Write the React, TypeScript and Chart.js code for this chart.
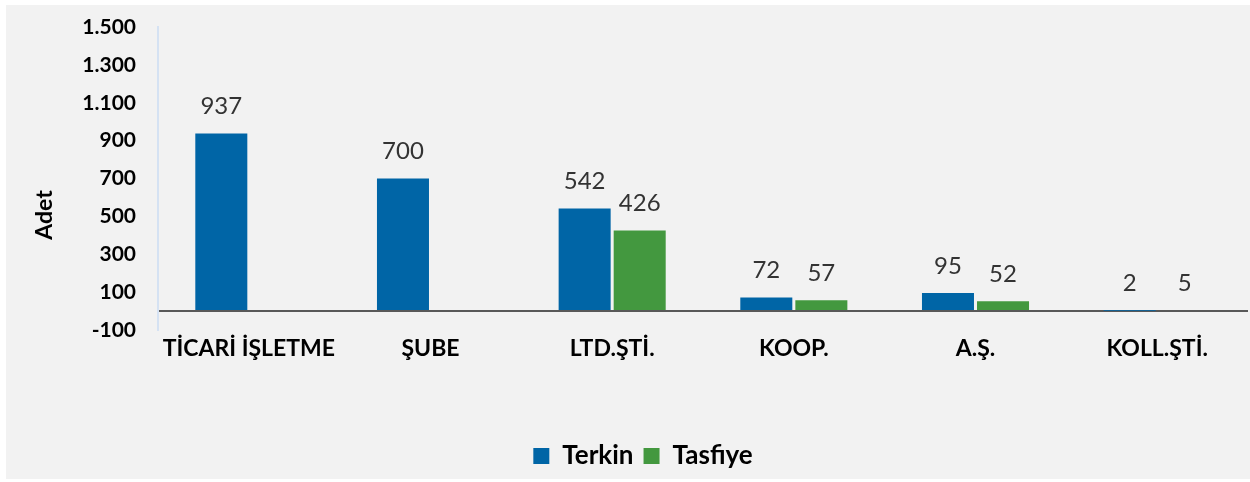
import React, { useEffect, useRef } from "react";
import { Chart, registerables } from "chart.js";

Chart.register(...registerables);

const categories = ["TİCARİ İŞLETME", "ŞUBE", "LTD.ŞTİ.", "KOOP.", "A.Ş.", "KOLL.ŞTİ."];
const terkinValues: (number | null)[] = [937, 700, 542, 72, 95, 2];
const tasfiyeValues: (number | null)[] = [null, null, 426, 57, 52, 5];
const yTickValues = [-100, 100, 300, 500, 700, 900, 1100, 1300, 1500];
const seriesNames = ["Terkin", "Tasfiye"];
const yTitle = "Adet";

const FONT = "Lato, 'Open Sans', sans-serif";

function fmtTR(v: number): string {
  const s = Math.abs(v).toString();
  const parts: string[] = [];
  for (let i = s.length; i > 0; i -= 3) parts.unshift(s.slice(Math.max(0, i - 3), i));
  return (v < 0 ? "-" : "") + parts.join(".");
}

const dataLabelPlugin = {
  id: "dataLabels",
  afterDatasetsDraw(chart: any) {
    const ctx = chart.ctx;
    ctx.save();
    ctx.font = `24px ${FONT}`;
    ctx.fillStyle = "#333333";
    ctx.textAlign = "center";
    ctx.textBaseline = "middle";
    chart.data.datasets.forEach((ds: any, di: number) => {
      const meta = chart.getDatasetMeta(di);
      meta.data.forEach((el: any, i: number) => {
        const v = ds.data[i];
        if (v === null || v === undefined) return;
        ctx.fillText(fmtTR(v), el.x, el.y - 27);
      });
    });
    ctx.restore();
  },
};

const yTitlePlugin = {
  id: "yTitle",
  afterDraw(chart: any) {
    const ctx = chart.ctx;
    ctx.save();
    ctx.translate(45, 215);
    ctx.rotate(-Math.PI / 2);
    ctx.font = `bold 23px ${FONT}`;
    ctx.fillStyle = "#000";
    ctx.textAlign = "center";
    ctx.textBaseline = "middle";
    ctx.fillText(yTitle, 0, 0);
    ctx.restore();
  },
};

export default function App() {
  const ref = useRef<HTMLCanvasElement | null>(null);

  useEffect(() => {
    document.body.style.margin = "0";
    if (!ref.current) return;
    const chart = new Chart(ref.current, {
      type: "bar",
      data: {
        labels: categories,
        datasets: [
          {
            label: seriesNames[0],
            data: terkinValues,
            backgroundColor: "#0065A6",
            barPercentage: 0.945,
            categoryPercentage: 0.606,
          },
          {
            label: seriesNames[1],
            data: tasfiyeValues,
            backgroundColor: "#43983F",
            barPercentage: 0.945,
            categoryPercentage: 0.606,
          },
        ],
      },
      options: {
        animation: false,
        responsive: false,
        maintainAspectRatio: false,
        layout: { padding: { top: 27, left: 38, right: 2, bottom: 3 } },
        plugins: {
          legend: {
            position: "bottom",
            labels: {
              boxWidth: 16,
              boxHeight: 16,
              padding: 10,
              color: "#000",
              font: { family: FONT, size: 26, weight: "bold" },
            },
          },
          tooltip: { enabled: false },
        },
        scales: {
          x: {
            grid: { display: false },
            border: { display: false },
            ticks: {
              color: "#000",
              padding: -3,
              maxRotation: 0,
              autoSkip: false,
              font: { family: FONT, size: 23, weight: "bold" },
            },
            afterFit(scale: any) {
              scale.height = 103;
            },
          },
          y: {
            min: -100,
            max: 1500,
            afterBuildTicks(scale: any) {
              const vals = [...yTickValues, 0].sort((a, b) => a - b);
              scale.ticks = vals.map((v) => ({ value: v }));
            },
            afterFit(scale: any) {
              scale.width = 120;
              scale.paddingTop = 12;
              scale.paddingBottom = 12;
            },
            grid: {
              drawTicks: false,
              lineWidth: 2,
              color: (c: any) => (c.tick && c.tick.value === 0 ? "#595959" : "rgba(0,0,0,0)"),
            },
            border: { display: true, color: "#d5e2f3", width: 2 },
            ticks: {
              padding: 22,
              color: "#000",
              font: { family: FONT, size: 21, weight: "bold" },
              callback: (v: any) => (v === 0 ? "" : fmtTR(Number(v))),
            },
          },
        },
      },
      plugins: [dataLabelPlugin, yTitlePlugin],
    } as any);
    return () => chart.destroy();
  }, []);

  return (
    <div style={{ position: "relative", width: 1250, height: 482, background: "#ffffff" }}>
      <div
        style={{
          position: "absolute",
          left: 6,
          top: 5,
          width: 1244,
          height: 474,
          background: "#f2f2f2",
        }}
      />
      <canvas
        ref={ref}
        width={1250}
        height={482}
        style={{ position: "absolute", left: 0, top: 0, width: 1250, height: 482 }}
      />
    </div>
  );
}
